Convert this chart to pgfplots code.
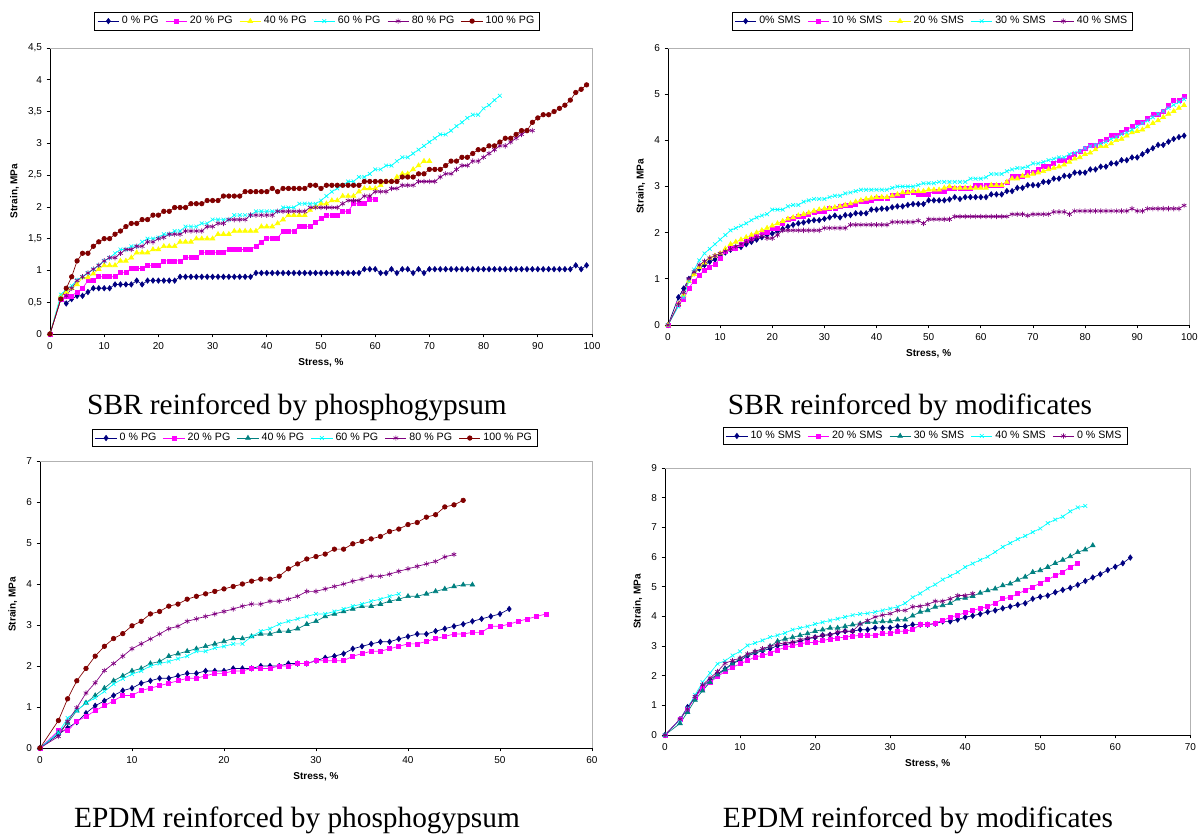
\documentclass[border=0pt]{standalone}
\usepackage{pgfplots}
\pgfplotsset{compat=1.18}
\usepackage{fontspec}
\setmainfont{Liberation Sans}
\newfontfamily\capfont{Liberation Serif}
\definecolor{navyc}{RGB}{0,0,128}
\definecolor{magc}{RGB}{255,0,255}
\definecolor{yelc}{RGB}{255,255,0}
\definecolor{cyac}{RGB}{0,255,255}
\definecolor{purc}{RGB}{128,0,128}
\definecolor{redc}{RGB}{128,0,0}
\definecolor{teac}{RGB}{0,128,128}
\pgfplotsset{
  panel/.style={
    scale only axis, axis lines*=left, enlargelimits=false, clip=false,
    tick align=outside, major tick length=2.5pt,
    every tick/.style={black, line width=0.5pt},
    axis line style={line width=0.6pt},
    tick label style={font=\fontsize{7.5}{9}\selectfont},
    label style={font=\bfseries\fontsize{7.5}{9}\selectfont},
    xlabel={Stress, \%}, ylabel={Strain, MPa},
    /pgf/number format/assume math mode=true,
    /pgf/number format/use comma,
    legend style={draw=black, font=\fontsize{8}{9.5}\selectfont, legend columns=-1, anchor=center, inner xsep=2pt, inner ysep=1pt, /tikz/every even column/.append style={column sep=3pt}},
    legend image code/.code={\draw[mark repeat=2,mark phase=2] plot coordinates {(0cm,0cm)(0.28cm,0cm)(0.56cm,0cm)};},
    after end axis/.code={\draw[gray!60, line width=0.5pt] (rel axis cs:0,1) -- (rel axis cs:1,1) -- (rel axis cs:1,0);},
  },
  sA/.style={color=navyc, mark=diamond*, mark size=2pt, line width=0.5pt},
  sB/.style={color=magc, mark=square*, mark size=1.5pt, line width=0.5pt},
  sC/.style={color=yelc, mark=triangle*, mark size=2pt, line width=0.5pt},
  sCt/.style={color=teac, mark=triangle*, mark size=2pt, line width=0.5pt},
  sD/.style={color=cyac, mark=x, mark size=2pt, line width=0.5pt},
  sE/.style={color=purc, mark=asterisk, mark size=2pt, line width=0.5pt},
  sF/.style={color=redc, mark=*, mark size=1.7pt, line width=0.5pt},
}
\begin{document}
\begin{tikzpicture}
\useasboundingbox (0,0) rectangle (901.5pt,625.5pt);
% ---------------- Panel 1 ----------------
\begin{axis}[panel, at={(37.5pt,375pt)}, anchor=south west, width=406.5pt, height=214.5pt,
  xmin=0, xmax=100, ymin=0, ymax=4.5, xtick={0,10,...,100}, ytick={0,0.5,...,4.5},
  legend style={at={(0.493,1.094)}}]
\addplot[sA] coordinates {(0,0)(2,0.55)(3,0.48)(4,0.55)(5,0.6)(6,0.6)(7,0.66)(8,0.72)(9,0.72)(10,0.72)(11,0.72)(12,0.78)(13,0.78)(14,0.78)(15,0.78)(16,0.84)(17,0.78)(18,0.84)(19,0.84)(20,0.84)(21,0.84)(22,0.84)(23,0.84)(24,0.9)(25,0.9)(26,0.9)(27,0.9)(28,0.9)(29,0.9)(30,0.9)(31,0.9)(32,0.9)(33,0.9)(34,0.9)(35,0.9)(36,0.9)(37,0.9)(38,0.96)(39,0.96)(40,0.96)(41,0.96)(42,0.96)(43,0.96)(44,0.96)(45,0.96)(46,0.96)(47,0.96)(48,0.96)(49,0.96)(50,0.96)(51,0.96)(52,0.96)(53,0.96)(54,0.96)(55,0.96)(56,0.96)(57,0.96)(58,1.02)(59,1.02)(60,1.02)(61,0.96)(62,0.96)(63,1.02)(64,0.96)(65,1.02)(66,1.02)(67,0.96)(68,1.02)(69,0.96)(70,1.02)(71,1.02)(72,1.02)(73,1.02)(74,1.02)(75,1.02)(76,1.02)(77,1.02)(78,1.02)(79,1.02)(80,1.02)(81,1.02)(82,1.02)(83,1.02)(84,1.02)(85,1.02)(86,1.02)(87,1.02)(88,1.02)(89,1.02)(90,1.02)(91,1.02)(92,1.02)(93,1.02)(94,1.02)(95,1.02)(96,1.02)(97,1.08)(98,1.02)(99,1.08)};
\addlegendentry{0 \% PG}
\addplot[sB] coordinates {(0,0)(2,0.55)(3,0.6)(4,0.6)(5,0.66)(6,0.72)(7,0.84)(8,0.84)(9,0.9)(10,0.9)(11,0.9)(12,0.9)(13,0.97)(14,0.97)(15,1.03)(16,1.03)(17,1.03)(18,1.08)(19,1.08)(20,1.08)(21,1.15)(22,1.15)(23,1.15)(24,1.15)(25,1.2)(26,1.2)(27,1.2)(28,1.28)(29,1.28)(30,1.28)(31,1.28)(32,1.28)(33,1.33)(34,1.33)(35,1.33)(36,1.33)(37,1.33)(38,1.38)(39,1.45)(40,1.51)(41,1.51)(42,1.51)(43,1.62)(44,1.62)(45,1.62)(46,1.69)(47,1.69)(48,1.69)(49,1.75)(50,1.82)(51,1.87)(52,1.87)(53,1.87)(54,1.93)(55,1.93)(56,2.05)(57,2.05)(58,2.05)(59,2.12)(60,2.12)};
\addlegendentry{20 \% PG}
\addplot[sC] coordinates {(0,0)(2,0.6)(3,0.66)(4,0.72)(5,0.78)(6,0.89)(7,0.89)(8,0.95)(9,1.02)(10,1.08)(11,1.08)(12,1.08)(13,1.15)(14,1.15)(15,1.2)(16,1.28)(17,1.28)(18,1.28)(19,1.33)(20,1.33)(21,1.38)(22,1.38)(23,1.38)(24,1.45)(25,1.45)(26,1.45)(27,1.5)(28,1.5)(29,1.5)(30,1.5)(31,1.57)(32,1.57)(33,1.57)(34,1.62)(35,1.62)(36,1.62)(37,1.62)(38,1.62)(39,1.69)(40,1.69)(41,1.69)(42,1.74)(43,1.8)(44,1.87)(45,1.87)(46,1.87)(47,1.87)(48,1.95)(49,2.0)(50,2.05)(51,2.05)(52,2.1)(53,2.1)(54,2.17)(55,2.17)(56,2.17)(57,2.24)(58,2.29)(59,2.29)(60,2.29)(61,2.34)(62,2.4)(63,2.4)(64,2.47)(65,2.52)(66,2.52)(67,2.59)(68,2.65)(69,2.72)(70,2.72)};
\addlegendentry{40 \% PG}
\addplot[sD] coordinates {(0,0)(2,0.62)(3,0.7)(4,0.76)(5,0.85)(6,0.9)(7,0.96)(8,1.02)(9,1.08)(10,1.15)(11,1.2)(12,1.27)(13,1.33)(14,1.33)(15,1.38)(16,1.38)(17,1.45)(18,1.5)(19,1.5)(20,1.52)(21,1.57)(22,1.57)(23,1.62)(24,1.62)(25,1.69)(26,1.69)(27,1.69)(28,1.74)(29,1.74)(30,1.8)(31,1.8)(32,1.8)(33,1.8)(34,1.87)(35,1.87)(36,1.87)(37,1.87)(38,1.93)(39,1.93)(40,1.93)(41,1.93)(42,1.93)(43,1.99)(44,1.99)(45,1.99)(46,2.05)(47,2.05)(48,2.05)(49,2.05)(50,2.1)(51,2.17)(52,2.24)(53,2.29)(54,2.34)(55,2.4)(56,2.4)(57,2.47)(58,2.47)(59,2.52)(60,2.59)(61,2.59)(62,2.65)(63,2.65)(64,2.72)(65,2.78)(66,2.78)(67,2.84)(68,2.9)(69,2.96)(70,3.02)(71,3.08)(72,3.14)(73,3.14)(74,3.2)(75,3.27)(76,3.33)(77,3.4)(78,3.45)(79,3.45)(80,3.55)(81,3.6)(82,3.68)(83,3.75)};
\addlegendentry{60 \% PG}
\addplot[sE] coordinates {(0,0)(2,0.55)(3,0.6)(4,0.72)(5,0.84)(6,0.9)(7,0.96)(8,1.02)(9,1.08)(10,1.15)(11,1.2)(12,1.2)(13,1.27)(14,1.33)(15,1.33)(16,1.38)(17,1.38)(18,1.45)(19,1.45)(20,1.5)(21,1.52)(22,1.57)(23,1.57)(24,1.57)(25,1.62)(26,1.62)(27,1.62)(28,1.62)(29,1.69)(30,1.69)(31,1.74)(32,1.74)(33,1.8)(34,1.8)(35,1.8)(36,1.8)(37,1.87)(38,1.87)(39,1.87)(40,1.87)(41,1.87)(42,1.93)(43,1.93)(44,1.93)(45,1.93)(46,1.93)(47,1.93)(48,1.99)(49,1.99)(50,1.99)(51,1.99)(52,1.99)(53,1.99)(54,2.05)(55,2.1)(56,2.1)(57,2.1)(58,2.17)(59,2.17)(60,2.24)(61,2.24)(62,2.24)(63,2.29)(64,2.29)(65,2.34)(66,2.34)(67,2.34)(68,2.4)(69,2.4)(70,2.4)(71,2.4)(72,2.47)(73,2.52)(74,2.52)(75,2.59)(76,2.65)(77,2.65)(78,2.72)(79,2.72)(80,2.78)(81,2.84)(82,2.9)(83,2.96)(84,2.96)(85,3.02)(86,3.08)(87,3.14)(88,3.2)(89,3.2)};
\addlegendentry{80 \% PG}
\addplot[sF] coordinates {(0,0)(2,0.55)(3,0.72)(4,0.9)(5,1.15)(6,1.27)(7,1.27)(8,1.38)(9,1.45)(10,1.5)(11,1.5)(12,1.57)(13,1.62)(14,1.69)(15,1.74)(16,1.74)(17,1.8)(18,1.8)(19,1.87)(20,1.87)(21,1.93)(22,1.93)(23,1.99)(24,1.99)(25,1.99)(26,2.05)(27,2.05)(28,2.05)(29,2.1)(30,2.1)(31,2.1)(32,2.17)(33,2.17)(34,2.17)(35,2.17)(36,2.24)(37,2.24)(38,2.24)(39,2.24)(40,2.24)(41,2.29)(42,2.24)(43,2.29)(44,2.29)(45,2.29)(46,2.29)(47,2.29)(48,2.34)(49,2.34)(50,2.29)(51,2.34)(52,2.34)(53,2.34)(54,2.34)(55,2.34)(56,2.34)(57,2.34)(58,2.4)(59,2.4)(60,2.4)(61,2.4)(62,2.4)(63,2.4)(64,2.4)(65,2.47)(66,2.47)(67,2.47)(68,2.52)(69,2.52)(70,2.59)(71,2.59)(72,2.59)(73,2.65)(74,2.72)(75,2.72)(76,2.78)(77,2.78)(78,2.84)(79,2.9)(80,2.9)(81,2.96)(82,2.96)(83,3.02)(84,3.08)(85,3.08)(86,3.14)(87,3.2)(88,3.2)(89,3.33)(90,3.4)(91,3.45)(92,3.45)(93,3.5)(94,3.55)(95,3.6)(96,3.68)(97,3.8)(98,3.85)(99,3.92)};
\addlegendentry{100 \% PG}
\end{axis}
% ---------------- Panel 2 ----------------
\begin{axis}[panel, at={(501pt,381.75pt)}, anchor=south west, width=391pt, height=207.75pt,
  xmin=0, xmax=100, ymin=0, ymax=6, xtick={0,10,...,100}, ytick={0,1,...,6},
  legend style={at={(0.507,1.097)}}]
\addplot[sA] coordinates {(0,0)(2,0.6)(3,0.79)(4,1.0)(5,1.12)(6,1.22)(7,1.3)(8,1.37)(9,1.42)(10,1.5)(11,1.57)(12,1.63)(13,1.67)(14,1.69)(15,1.75)(16,1.8)(17,1.85)(18,1.9)(19,1.95)(20,1.98)(21,2.03)(22,2.08)(23,2.13)(24,2.17)(25,2.2)(26,2.22)(27,2.25)(28,2.27)(29,2.27)(30,2.3)(31,2.33)(32,2.37)(33,2.33)(34,2.38)(35,2.38)(36,2.42)(37,2.42)(38,2.42)(39,2.5)(40,2.5)(41,2.52)(42,2.52)(43,2.55)(44,2.57)(45,2.57)(46,2.6)(47,2.62)(48,2.62)(49,2.62)(50,2.7)(51,2.7)(52,2.7)(53,2.7)(54,2.72)(55,2.77)(56,2.73)(57,2.77)(58,2.77)(59,2.77)(60,2.77)(61,2.77)(62,2.83)(63,2.83)(64,2.83)(65,2.9)(66,2.9)(67,2.97)(68,2.97)(69,3.03)(70,3.03)(71,3.03)(72,3.1)(73,3.1)(74,3.17)(75,3.17)(76,3.23)(77,3.23)(78,3.3)(79,3.3)(80,3.3)(81,3.37)(82,3.37)(83,3.43)(84,3.43)(85,3.5)(86,3.5)(87,3.57)(88,3.57)(89,3.63)(90,3.63)(91,3.7)(92,3.77)(93,3.83)(94,3.9)(95,3.9)(96,3.97)(97,4.03)(98,4.07)(99,4.1)};
\addlegendentry{0\% SMS}
\addplot[sB] coordinates {(0,0)(2,0.45)(3,0.55)(4,0.8)(5,0.95)(6,1.08)(7,1.18)(8,1.25)(9,1.32)(10,1.45)(11,1.6)(12,1.65)(13,1.67)(14,1.75)(15,1.83)(16,1.88)(17,1.95)(18,2.0)(19,2.0)(20,2.1)(21,2.1)(22,2.2)(23,2.28)(24,2.3)(25,2.35)(26,2.35)(27,2.4)(28,2.45)(29,2.47)(30,2.47)(31,2.53)(32,2.53)(33,2.57)(34,2.6)(35,2.6)(36,2.62)(37,2.67)(38,2.67)(39,2.7)(40,2.75)(41,2.75)(42,2.75)(43,2.8)(44,2.8)(45,2.8)(46,2.87)(47,2.87)(48,2.83)(49,2.83)(50,2.83)(51,2.9)(52,2.9)(53,2.9)(54,2.97)(55,2.97)(56,2.97)(57,2.97)(58,2.97)(59,3.03)(60,3.03)(61,3.03)(62,3.03)(63,3.03)(64,3.03)(65,3.1)(66,3.23)(67,3.23)(68,3.23)(69,3.3)(70,3.3)(71,3.37)(72,3.43)(73,3.43)(74,3.5)(75,3.57)(76,3.57)(77,3.63)(78,3.7)(79,3.77)(80,3.83)(81,3.9)(82,3.9)(83,3.97)(84,4.03)(85,4.1)(86,4.1)(87,4.17)(88,4.23)(89,4.3)(90,4.4)(91,4.4)(92,4.47)(93,4.57)(94,4.57)(95,4.63)(96,4.75)(97,4.87)(98,4.87)(99,4.96)};
\addlegendentry{10 \% SMS}
\addplot[sC] coordinates {(0,0)(2,0.45)(3,0.65)(4,0.95)(5,1.1)(6,1.25)(7,1.35)(8,1.45)(9,1.5)(10,1.55)(11,1.65)(12,1.75)(13,1.8)(14,1.85)(15,1.9)(16,1.95)(17,2.0)(18,2.05)(19,2.1)(20,2.15)(21,2.2)(22,2.25)(23,2.3)(24,2.33)(25,2.37)(26,2.4)(27,2.43)(28,2.47)(29,2.5)(30,2.52)(31,2.53)(32,2.55)(33,2.57)(34,2.6)(35,2.63)(36,2.67)(37,2.7)(38,2.73)(39,2.75)(40,2.77)(41,2.77)(42,2.77)(43,2.8)(44,2.83)(45,2.87)(46,2.87)(47,2.9)(48,2.9)(49,2.9)(50,2.93)(51,2.93)(52,2.93)(53,2.97)(54,3.0)(55,2.97)(56,2.97)(57,2.97)(58,2.97)(59,2.97)(60,2.97)(61,2.97)(62,3.03)(63,3.03)(64,3.03)(65,3.1)(66,3.17)(67,3.17)(68,3.23)(69,3.23)(70,3.27)(71,3.3)(72,3.33)(73,3.37)(74,3.4)(75,3.43)(76,3.47)(77,3.53)(78,3.6)(79,3.63)(80,3.7)(81,3.73)(82,3.8)(83,3.87)(84,3.87)(85,3.93)(86,4.0)(87,4.03)(88,4.1)(89,4.17)(90,4.2)(91,4.23)(92,4.3)(93,4.37)(94,4.43)(95,4.5)(96,4.57)(97,4.63)(98,4.7)(99,4.76)};
\addlegendentry{20 \% SMS}
\addplot[sD] coordinates {(0,0)(2,0.4)(3,0.6)(4,0.95)(5,1.2)(6,1.4)(7,1.55)(8,1.65)(9,1.75)(10,1.85)(11,1.95)(12,2.05)(13,2.1)(14,2.15)(15,2.2)(16,2.27)(17,2.33)(18,2.37)(19,2.4)(20,2.5)(21,2.5)(22,2.5)(23,2.57)(24,2.6)(25,2.6)(26,2.67)(27,2.7)(28,2.73)(29,2.73)(30,2.73)(31,2.77)(32,2.8)(33,2.8)(34,2.85)(35,2.87)(36,2.9)(37,2.93)(38,2.93)(39,2.93)(40,2.93)(41,2.93)(42,2.93)(43,2.97)(44,3.0)(45,3.0)(46,3.0)(47,3.0)(48,3.03)(49,3.07)(50,3.07)(51,3.07)(52,3.1)(53,3.1)(54,3.1)(55,3.1)(56,3.1)(57,3.1)(58,3.17)(59,3.17)(60,3.17)(61,3.2)(62,3.27)(63,3.27)(64,3.27)(65,3.33)(66,3.37)(67,3.4)(68,3.4)(69,3.43)(70,3.5)(71,3.5)(72,3.53)(73,3.57)(74,3.6)(75,3.63)(76,3.63)(77,3.7)(78,3.73)(79,3.77)(80,3.83)(81,3.87)(82,3.9)(83,3.93)(84,3.97)(85,4.03)(86,4.07)(87,4.13)(88,4.17)(89,4.23)(90,4.3)(91,4.37)(92,4.43)(93,4.5)(94,4.57)(95,4.63)(96,4.7)(97,4.77)(98,4.83)(99,4.89)};
\addlegendentry{30 \% SMS}
\addplot[sE] coordinates {(0,0)(2,0.45)(3,0.7)(4,1.0)(5,1.15)(6,1.3)(7,1.38)(8,1.45)(9,1.5)(10,1.55)(11,1.6)(12,1.65)(13,1.7)(14,1.75)(15,1.8)(16,1.85)(17,1.9)(18,1.93)(19,1.88)(20,1.88)(21,1.95)(22,2.05)(23,2.05)(24,2.05)(25,2.05)(26,2.05)(27,2.05)(28,2.05)(29,2.05)(30,2.1)(31,2.1)(32,2.1)(33,2.1)(34,2.1)(35,2.17)(36,2.17)(37,2.17)(38,2.17)(39,2.17)(40,2.17)(41,2.17)(42,2.17)(43,2.23)(44,2.23)(45,2.23)(46,2.23)(47,2.23)(48,2.26)(49,2.2)(50,2.29)(51,2.29)(52,2.29)(53,2.29)(54,2.29)(55,2.35)(56,2.35)(57,2.35)(58,2.35)(59,2.35)(60,2.35)(61,2.35)(62,2.35)(63,2.35)(64,2.35)(65,2.35)(66,2.4)(67,2.4)(68,2.4)(69,2.37)(70,2.4)(71,2.4)(72,2.4)(73,2.4)(74,2.45)(75,2.45)(76,2.45)(77,2.4)(78,2.47)(79,2.47)(80,2.47)(81,2.47)(82,2.47)(83,2.47)(84,2.47)(85,2.47)(86,2.47)(87,2.47)(88,2.47)(89,2.52)(90,2.47)(91,2.47)(92,2.52)(93,2.52)(94,2.52)(95,2.52)(96,2.52)(97,2.52)(98,2.52)(99,2.59)};
\addlegendentry{40 \% SMS}
\end{axis}
% ---------------- Panel 3 ----------------
\begin{axis}[panel, at={(30pt,64.5pt)}, anchor=south west, width=414pt, height=215.25pt,
  xmin=0, xmax=60, ymin=0, ymax=7, xtick={0,10,...,60}, ytick={0,1,...,7},
  legend style={at={(0.498,1.08)}}]
\addplot[sA] coordinates {(0,0)(2,0.33)(3,0.49)(4,0.63)(5,0.85)(6,1.03)(7,1.15)(8,1.28)(9,1.4)(10,1.46)(11,1.58)(12,1.64)(13,1.7)(14,1.7)(15,1.76)(16,1.82)(17,1.82)(18,1.88)(19,1.88)(20,1.88)(21,1.94)(22,1.94)(23,1.94)(24,2.0)(25,2.0)(26,2.0)(27,2.06)(28,2.06)(29,2.06)(30,2.13)(31,2.2)(32,2.24)(33,2.3)(34,2.42)(35,2.48)(36,2.54)(37,2.59)(38,2.59)(39,2.66)(40,2.72)(41,2.78)(42,2.78)(43,2.85)(44,2.91)(45,2.97)(46,3.02)(47,3.09)(48,3.15)(49,3.21)(50,3.27)(51,3.39)};
\addlegendentry{0 \% PG}
\addplot[sB] coordinates {(0,0)(2,0.42)(3,0.42)(4,0.65)(5,0.77)(6,0.91)(7,1.03)(8,1.15)(9,1.28)(10,1.28)(11,1.4)(12,1.46)(13,1.52)(14,1.58)(15,1.64)(16,1.7)(17,1.7)(18,1.76)(19,1.82)(20,1.82)(21,1.88)(22,1.88)(23,1.94)(24,1.94)(25,1.94)(26,2.0)(27,2.0)(28,2.06)(29,2.06)(30,2.13)(31,2.13)(32,2.13)(33,2.13)(34,2.24)(35,2.3)(36,2.36)(37,2.36)(38,2.42)(39,2.48)(40,2.54)(41,2.54)(42,2.6)(43,2.67)(44,2.72)(45,2.78)(46,2.78)(47,2.82)(48,2.82)(49,2.97)(50,2.97)(51,3.02)(52,3.09)(53,3.15)(54,3.21)(55,3.27)};
\addlegendentry{20 \% PG}
\addplot[sCt] coordinates {(0,0)(2,0.37)(3,0.61)(4,0.91)(5,1.1)(6,1.28)(7,1.46)(8,1.64)(9,1.76)(10,1.88)(11,1.94)(12,2.06)(13,2.11)(14,2.24)(15,2.3)(16,2.36)(17,2.42)(18,2.48)(19,2.54)(20,2.6)(21,2.67)(22,2.67)(23,2.72)(24,2.78)(25,2.78)(26,2.85)(27,2.85)(28,2.91)(29,3.02)(30,3.09)(31,3.21)(32,3.27)(33,3.33)(34,3.39)(35,3.46)(36,3.46)(37,3.51)(38,3.58)(39,3.63)(40,3.7)(41,3.7)(42,3.76)(43,3.82)(44,3.88)(45,3.94)(46,3.98)(47,3.98)};
\addlegendentry{40 \% PG}
\addplot[sD] coordinates {(0,0)(2,0.37)(3,0.73)(4,0.91)(5,1.1)(6,1.22)(7,1.38)(8,1.56)(9,1.69)(10,1.8)(11,1.88)(12,2.0)(13,2.06)(14,2.11)(15,2.18)(16,2.24)(17,2.36)(18,2.36)(19,2.44)(20,2.48)(21,2.54)(22,2.54)(23,2.72)(24,2.85)(25,2.91)(26,3.02)(27,3.09)(28,3.15)(29,3.21)(30,3.27)(31,3.27)(32,3.33)(33,3.39)(34,3.46)(35,3.51)(36,3.58)(37,3.63)(38,3.7)(39,3.76)};
\addlegendentry{60 \% PG}
\addplot[sE] coordinates {(0,0)(2,0.28)(3,0.65)(4,0.98)(5,1.34)(6,1.59)(7,1.89)(8,2.06)(9,2.24)(10,2.42)(11,2.54)(12,2.66)(13,2.78)(14,2.91)(15,2.97)(16,3.09)(17,3.15)(18,3.21)(19,3.27)(20,3.33)(21,3.39)(22,3.46)(23,3.51)(24,3.51)(25,3.58)(26,3.58)(27,3.63)(28,3.7)(29,3.82)(30,3.82)(31,3.88)(32,3.94)(33,4.0)(34,4.07)(35,4.12)(36,4.19)(37,4.19)(38,4.24)(39,4.31)(40,4.37)(41,4.43)(42,4.49)(43,4.55)(44,4.66)(45,4.72)};
\addlegendentry{80 \% PG}
\addplot[sF] coordinates {(0,0)(2,0.67)(3,1.2)(4,1.64)(5,1.94)(6,2.24)(7,2.48)(8,2.67)(9,2.79)(10,2.98)(11,3.09)(12,3.27)(13,3.33)(14,3.46)(15,3.51)(16,3.63)(17,3.7)(18,3.76)(19,3.82)(20,3.88)(21,3.94)(22,4.0)(23,4.07)(24,4.12)(25,4.12)(26,4.19)(27,4.37)(28,4.49)(29,4.61)(30,4.67)(31,4.73)(32,4.85)(33,4.85)(34,4.98)(35,5.04)(36,5.1)(37,5.16)(38,5.28)(39,5.34)(40,5.45)(41,5.5)(42,5.63)(43,5.69)(44,5.88)(45,5.93)(46,6.04)};
\addlegendentry{100 \% PG}
\end{axis}
% ---------------- Panel 4 ----------------
\begin{axis}[panel, at={(498.75pt,74.25pt)}, anchor=south west, width=394pt, height=200.25pt,
  xmin=0, xmax=70, ymin=0, ymax=9, xtick={0,10,...,70}, ytick={0,1,...,9},
  legend style={at={(0.495,1.12)}}]
\addplot[sA] coordinates {(0,0)(2,0.53)(3,0.94)(4,1.27)(5,1.63)(6,1.86)(7,2.06)(8,2.23)(9,2.42)(10,2.51)(11,2.67)(12,2.76)(13,2.84)(14,2.91)(15,3.01)(16,3.04)(17,3.1)(18,3.16)(19,3.24)(20,3.29)(21,3.36)(22,3.38)(23,3.44)(24,3.5)(25,3.5)(26,3.55)(27,3.55)(28,3.61)(29,3.61)(30,3.61)(31,3.66)(32,3.66)(33,3.72)(34,3.72)(35,3.72)(36,3.75)(37,3.83)(38,3.83)(39,3.89)(40,3.97)(41,4.02)(42,4.08)(43,4.15)(44,4.2)(45,4.27)(46,4.33)(47,4.39)(48,4.44)(49,4.59)(50,4.66)(51,4.7)(52,4.81)(53,4.89)(54,4.96)(55,5.06)(56,5.19)(57,5.31)(58,5.42)(59,5.56)(60,5.67)(61,5.79)(62,5.98)};
\addlegendentry{10 \% SMS}
\addplot[sB] coordinates {(0,0)(2,0.53)(3,0.88)(4,1.26)(5,1.58)(6,1.77)(7,1.97)(8,2.14)(9,2.28)(10,2.4)(11,2.51)(12,2.63)(13,2.68)(14,2.76)(15,2.87)(16,2.95)(17,3.01)(18,3.07)(19,3.12)(20,3.12)(21,3.18)(22,3.24)(23,3.27)(24,3.3)(25,3.33)(26,3.36)(27,3.36)(28,3.36)(29,3.43)(30,3.43)(31,3.5)(32,3.5)(33,3.55)(34,3.72)(35,3.72)(36,3.78)(37,3.86)(38,3.97)(39,4.04)(40,4.12)(41,4.2)(42,4.27)(43,4.33)(44,4.45)(45,4.59)(46,4.64)(47,4.76)(48,4.88)(49,4.99)(50,5.12)(51,5.24)(52,5.37)(53,5.49)(54,5.66)(55,5.78)};
\addlegendentry{20 \% SMS}
\addplot[sCt] coordinates {(0,0)(2,0.39)(3,0.77)(4,1.18)(5,1.49)(6,1.78)(7,2.03)(8,2.2)(9,2.4)(10,2.57)(11,2.71)(12,2.8)(13,2.87)(14,2.99)(15,3.16)(16,3.24)(17,3.29)(18,3.36)(19,3.42)(20,3.5)(21,3.55)(22,3.61)(23,3.61)(24,3.66)(25,3.72)(26,3.75)(27,3.8)(28,3.8)(29,3.83)(30,3.83)(31,3.89)(32,3.89)(33,4.02)(34,4.15)(35,4.2)(36,4.32)(37,4.37)(38,4.44)(39,4.59)(40,4.62)(41,4.68)(42,4.79)(43,4.87)(44,4.93)(45,5.04)(46,5.1)(47,5.23)(48,5.33)(49,5.49)(50,5.55)(51,5.66)(52,5.79)(53,5.9)(54,6.02)(55,6.16)(56,6.25)(57,6.39)};
\addlegendentry{30 \% SMS}
\addplot[sD] coordinates {(0,0)(2,0.51)(3,0.9)(4,1.35)(5,1.78)(6,2.09)(7,2.4)(8,2.5)(9,2.68)(10,2.82)(11,3.02)(12,3.1)(13,3.19)(14,3.3)(15,3.36)(16,3.44)(17,3.55)(18,3.61)(19,3.66)(20,3.74)(21,3.8)(22,3.86)(23,3.92)(24,3.98)(25,4.04)(26,4.08)(27,4.1)(28,4.15)(29,4.2)(30,4.26)(31,4.32)(32,4.44)(33,4.64)(34,4.77)(35,4.94)(36,5.07)(37,5.24)(38,5.36)(39,5.49)(40,5.66)(41,5.78)(42,5.9)(43,6.01)(44,6.17)(45,6.34)(46,6.47)(47,6.6)(48,6.71)(49,6.84)(50,6.96)(51,7.14)(52,7.26)(53,7.36)(54,7.54)(55,7.67)(56,7.72)};
\addlegendentry{40 \% SMS}
\addplot[sE] coordinates {(0,0)(2,0.53)(3,0.88)(4,1.3)(5,1.69)(6,1.92)(7,2.14)(8,2.42)(9,2.51)(10,2.59)(11,2.73)(12,2.82)(13,2.91)(14,2.99)(15,3.07)(16,3.1)(17,3.13)(18,3.21)(19,3.27)(20,3.3)(21,3.36)(22,3.38)(23,3.47)(24,3.5)(25,3.5)(26,3.74)(27,3.86)(28,3.98)(29,4.04)(30,4.09)(31,4.2)(32,4.2)(33,4.32)(34,4.34)(35,4.4)(36,4.51)(37,4.51)(38,4.59)(39,4.7)(40,4.7)(41,4.77)};
\addlegendentry{0 \% SMS}
\end{axis}
% ---------------- Captions ----------------
\node[font=\capfont\fontsize{22}{26}\selectfont] at (222.75pt,320.25pt) {SBR reinforced by phosphogypsum};
\node[font=\capfont\fontsize{22}{26}\selectfont] at (682.5pt,320.25pt) {SBR reinforced by modificates};
\node[font=\capfont\fontsize{22}{26}\selectfont] at (222.75pt,10.5pt) {EPDM reinforced by phosphogypsum};
\node[font=\capfont\fontsize{22}{26}\selectfont] at (688.5pt,10.5pt) {EPDM reinforced by modificates};
\end{tikzpicture}
\end{document}
